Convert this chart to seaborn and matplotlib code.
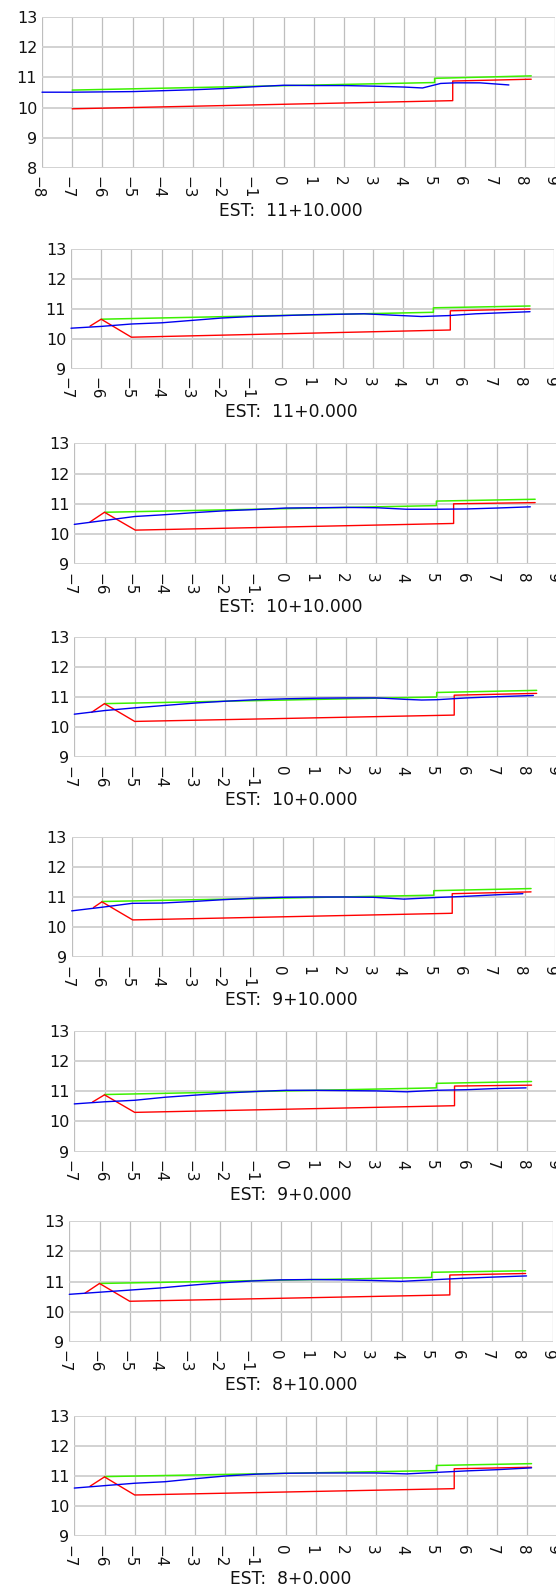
import matplotlib
matplotlib.use("Agg")
import matplotlib.pyplot as plt
import matplotlib.transforms as mtransforms
import seaborn as sns
import pandas as pd

# ---------------- data ----------------
stations = ["EST:  11+10.000", "EST:  11+0.000", "EST:  10+10.000", "EST:  10+0.000",
            "EST:  9+10.000", "EST:  9+0.000", "EST:  8+10.000", "EST:  8+0.000"]

x_min = [-8, -7, -7, -7, -7, -7, -7, -7]
y_min = [8, 9, 9, 9, 9, 9, 9, 9]

green_x = [
    [-7, 5.0, 5.0, 8.2],
    [-6, 5.0, 5.0, 8.2],
    [-6, 4.99, 4.99, 8.26],
    [-6, 5.0, 5.0, 8.31],
    [-6, 4.99, 4.99, 8.21],
    [-6, 4.99, 4.99, 8.14],
    [-6, 5.0, 5.0, 8.11],
    [-6, 4.99, 4.99, 8.14],
]
green_y = [
    [10.58, 10.83, 10.97, 11.05],
    [10.66, 10.89, 11.04, 11.10],
    [10.72, 10.94, 11.09, 11.15],
    [10.78, 11.00, 11.15, 11.22],
    [10.85, 11.06, 11.21, 11.28],
    [10.89, 11.11, 11.26, 11.32],
    [10.94, 11.14, 11.31, 11.36],
    [10.98, 11.18, 11.35, 11.41],
]

red_x = [
    [-7, 5.6, 5.6, 8.2],
    [-6.37, -6.0, -5.0, 5.56, 5.56, 8.2],
    [-6.48, -6.0, -4.98, 5.56, 5.56, 8.26],
    [-6.43, -6.0, -5.0, 5.58, 5.58, 8.31],
    [-6.28, -6.0, -4.98, 5.6, 5.6, 8.21],
    [-6.4, -6.0, -5.0, 5.59, 5.59, 8.14],
    [-6.48, -6.0, -5.0, 5.6, 5.6, 8.11],
    [-6.48, -6.0, -5.0, 5.58, 5.58, 8.14],
]
red_y = [
    [9.96, 10.23, 10.88, 10.94],
    [10.43, 10.66, 10.06, 10.30, 10.94, 11.00],
    [10.40, 10.72, 10.13, 10.35, 11.00, 11.04],
    [10.49, 10.78, 10.19, 10.40, 11.06, 11.12],
    [10.65, 10.84, 10.24, 10.46, 11.11, 11.17],
    [10.64, 10.88, 10.30, 10.52, 11.17, 11.20],
    [10.62, 10.94, 10.35, 10.56, 11.22, 11.27],
    [10.66, 10.97, 10.37, 10.58, 11.24, 11.29],
]

blue_x = [
    [-8, -7, -6, -5, -4, -3, -2, -1, 0, 1, 2, 3, 4, 4.6, 5.2, 5.7, 6.5, 7.46],
    [-7, -6, -5, -4, -3, -2, -1, 0, 1, 2.7, 4.6, 5.5, 6.4, 8.2],
    [-7, -6, -5, -4, -3, -2, -1, 0, 1, 2, 3, 4, 5, 6, 7, 8.1],
    [-7, -6, -5, -4, -3, -2, -1, 0, 1, 2, 3, 4, 4.5, 5, 6, 7, 8.2],
    [-7, -6, -5, -4, -3, -2, -1, 0, 1, 2, 3, 4, 5, 6, 7, 7.94],
    [-7, -6, -5, -4, -3, -2, -1, 0, 1, 2, 3, 4, 5, 6, 7, 7.96],
    [-7, -6, -5, -4, -3, -2, -1, 0, 1, 2, 3, 4, 5, 6, 7, 8.14],
    [-7, -6, -5, -4, -3, -2, -1, 0, 1, 2, 3, 4, 5, 6, 7, 8.14],
]
blue_y = [
    [10.51, 10.51, 10.52, 10.53, 10.56, 10.59, 10.63, 10.69, 10.74, 10.73, 10.73, 10.71, 10.68, 10.65, 10.80, 10.82, 10.82, 10.75],
    [10.36, 10.42, 10.50, 10.54, 10.62, 10.70, 10.75, 10.78, 10.81, 10.84, 10.75, 10.78, 10.84, 10.91],
    [10.32, 10.45, 10.58, 10.64, 10.71, 10.77, 10.81, 10.86, 10.87, 10.88, 10.87, 10.82, 10.82, 10.83, 10.86, 10.90],
    [10.43, 10.55, 10.64, 10.72, 10.80, 10.86, 10.91, 10.94, 10.96, 10.97, 10.97, 10.92, 10.90, 10.91, 10.97, 11.01, 11.05],
    [10.54, 10.66, 10.79, 10.80, 10.85, 10.91, 10.96, 10.99, 11.00, 11.00, 10.99, 10.93, 10.98, 11.02, 11.07, 11.11],
    [10.58, 10.65, 10.70, 10.80, 10.87, 10.94, 10.99, 11.03, 11.03, 11.02, 11.01, 10.98, 11.03, 11.05, 11.09, 11.11],
    [10.58, 10.65, 10.72, 10.79, 10.88, 10.96, 11.02, 11.06, 11.07, 11.06, 11.04, 11.01, 11.06, 11.11, 11.15, 11.19],
    [10.60, 10.68, 10.76, 10.81, 10.91, 11.00, 11.06, 11.09, 11.10, 11.10, 11.10, 11.07, 11.12, 11.17, 11.21, 11.27],
]

# ---------------- layout (pixels) ----------------
W, H = 556, 1586
ax_left = [42, 71, 74.3, 74.3, 71.7, 74.3, 69.3, 74.3]
ax_top = [17, 249, 443.3, 636.7, 836.7, 1030.7, 1221.3, 1415.7]
ax_bottom = [168, 369, 564.3, 757.3, 957.3, 1151.7, 1342, 1536.3]
unit_px = 30.2
title_cx = 291

sns.set_theme(style="white")
plt.rcParams["font.family"] = ["DejaVu Sans"]

fig = plt.figure(figsize=(W / 100, H / 100), dpi=100)

for i in range(8):
    x0, x1 = x_min[i], 9
    y0, y1 = y_min[i], 13
    width_px = (x1 - x0) * unit_px
    rect = [ax_left[i] / W, (H - ax_bottom[i]) / H, width_px / W,
            (ax_bottom[i] - ax_top[i]) / H]
    ax = fig.add_axes(rect)
    ax.set_xlim(x0, x1)
    ax.set_ylim(y0, y1)
    ax.set_xticks(list(range(x0, x1 + 1)))
    ax.set_yticks(list(range(y0, y1 + 1)))
    for s in ax.spines.values():
        s.set_visible(False)
    ax.grid(axis="x", color="#bebebe", lw=0.9)
    ax.grid(axis="y", color="#d2d2d2", lw=1.4)
    ax.set_axisbelow(True)
    ax.tick_params(axis="x", length=0, pad=6, labelsize=11, labelrotation=270,
                   colors="#111111")
    ax.tick_params(axis="y", length=0, pad=3.5, labelsize=11.5, colors="#111111")
    off = mtransforms.ScaledTranslation(-5 / 100, 0, fig.dpi_scale_trans)
    for lab in ax.get_xticklabels():
        lab.set_transform(lab.get_transform() + off)

    sns.lineplot(x=green_x[i], y=green_y[i], ax=ax, color="#3cf000", lw=1.1,
                 sort=False, estimator=None)
    sns.lineplot(x=red_x[i], y=red_y[i], ax=ax, color="#ff0000", lw=1.0,
                 sort=False, estimator=None)
    sns.lineplot(x=blue_x[i], y=blue_y[i], ax=ax, color="#0000f0", lw=1.0,
                 sort=False, estimator=None)
    ax.set_xlabel("")
    ax.set_ylabel("")
    for ln in ax.lines:
        ln.set_clip_on(False)

    fig.text(title_cx / W, 1 - (ax_bottom[i] + 43) / H, stations[i],
             ha="center", va="center", fontsize=12.3, color="#111111")

fig.savefig("out.png", dpi=100)
